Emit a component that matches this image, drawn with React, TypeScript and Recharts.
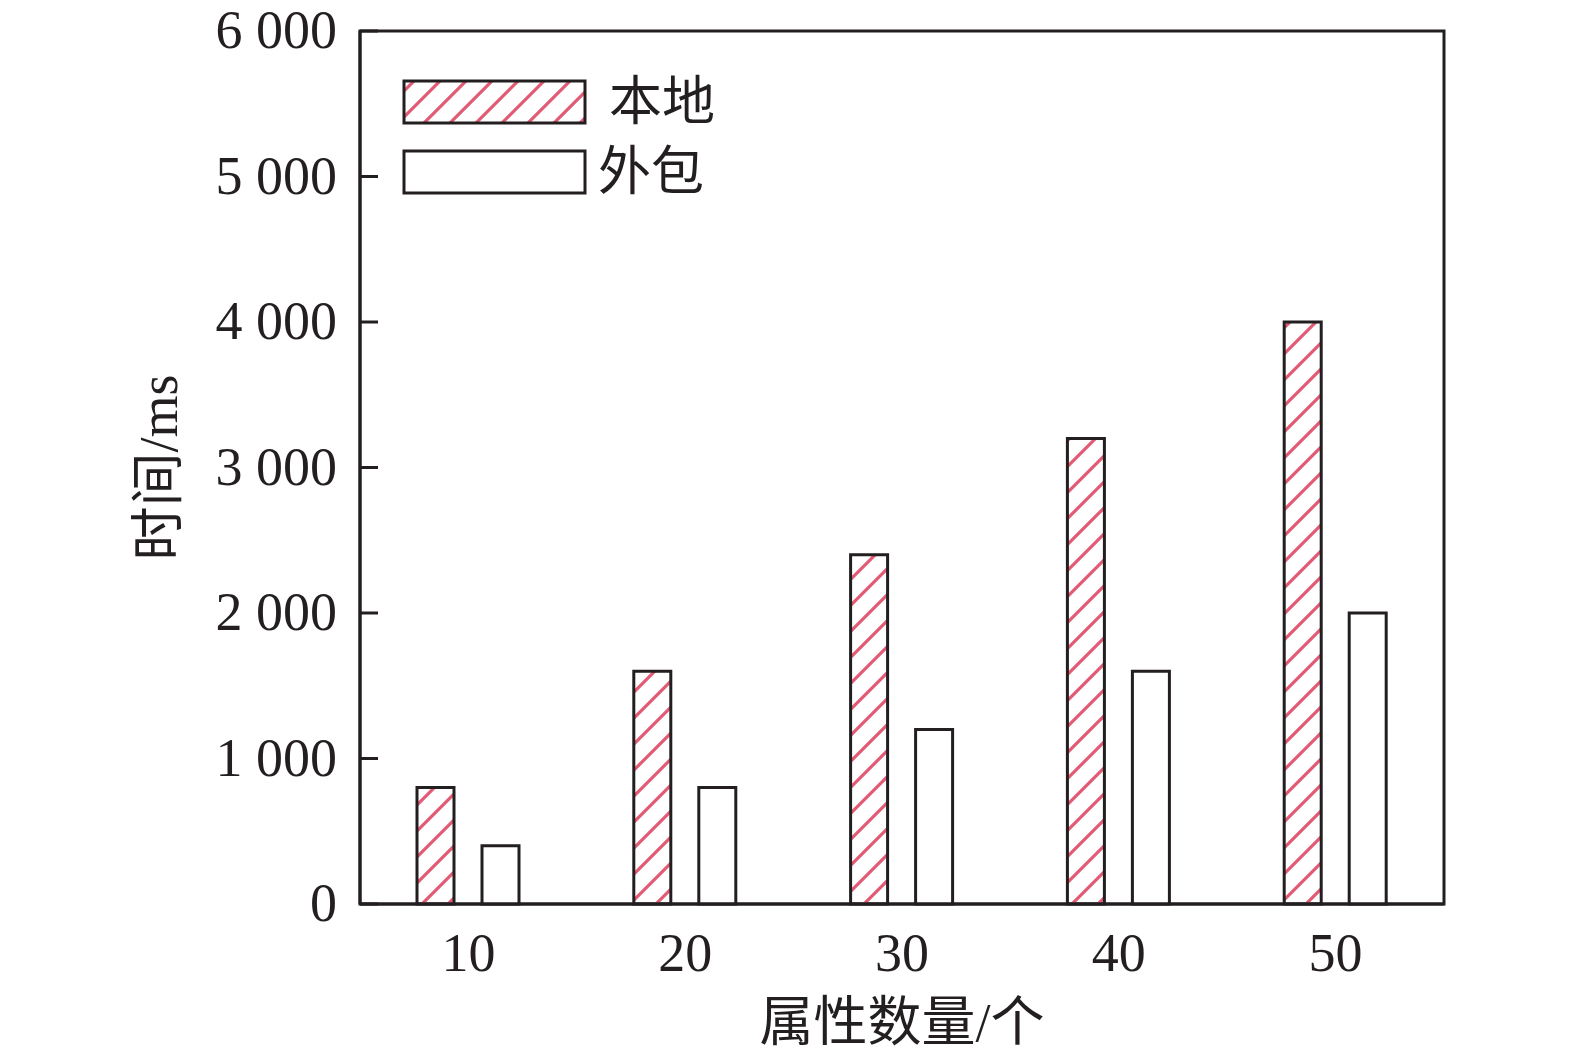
import React from "react";
import { BarChart, Bar, XAxis, YAxis, Legend, ReferenceArea } from "recharts";

// attribute count vs. time (ms)
const categories = ["10", "20", "30", "40", "50"];
const localTimes = [800, 1600, 2400, 3200, 4000];
const outsourcedTimes = [400, 800, 1200, 1600, 2000];
const seriesNames = ["本地", "外包"];
const yTicks = [0, 1000, 2000, 3000, 4000, 5000, 6000];
const yTickLabels = ["0", "1 000", "2 000", "3 000", "4 000", "5 000", "6 000"];

const data = categories.map((c, i) => ({
  attrs: c,
  local: localTimes[i],
  outsourced: outsourcedTimes[i],
}));

const INK = "#231f20";
const HATCH = "#e35a74";
const SERIF = "'Liberation Serif', 'Times New Roman', 'Noto Sans CJK SC', serif";

function Hatch({ id }: { id: string }) {
  return (
    <pattern id={id} width={26} height={26} patternUnits="userSpaceOnUse">
      <path d="M-4,30 L30,-4 M-4,4 L4,-4 M22,30 L30,22" stroke={HATCH} strokeWidth={3.2} />
    </pattern>
  );
}

function YTick(props: any) {
  const { x, y, payload } = props;
  const label = yTickLabels[yTicks.indexOf(payload.value)];
  return (
    <g>
      <line x1={x + 23} x2={x + 41} y1={y} y2={y} stroke={INK} strokeWidth={3} />
      <text x={x} y={y} dy="0.32em" textAnchor="end" fontSize={54} fontFamily={SERIF} fill={INK}>
        {label}
      </text>
    </g>
  );
}

function LegendBox() {
  return (
    <svg width={340} height={130} style={{ overflow: "visible" }}>
      <defs>
        <Hatch id="hatchLegend" />
      </defs>
      <rect x={9} y={7} width={181} height={42} fill="url(#hatchLegend)" stroke={INK} strokeWidth={3} />
      <rect x={9} y={77} width={181} height={42} fill="#fff" stroke={INK} strokeWidth={3} />
      <text x={214} y={28} dominantBaseline="central" fontSize={53} fontFamily={SERIF} fill={INK}>
        {seriesNames[0]}
      </text>
      <text x={203} y={98} dominantBaseline="central" fontSize={53} fontFamily={SERIF} fill={INK}>
        {seriesNames[1]}
      </text>
    </svg>
  );
}

export default function App() {
  return (
    <div style={{ position: "absolute", left: 0, top: 0, width: 1575, height: 1058, background: "#fff" }}>
      <BarChart
        width={1575}
        height={1058}
        data={data}
        margin={{ top: 31, right: 131, left: 140, bottom: 0 }}
        barSize={37}
        barGap={28}
      >
        <defs>
          <Hatch id="hatch" />
        </defs>
        <XAxis
          dataKey="attrs"
          height={154}
          tickLine={false}
          tickSize={0}
          tickMargin={29}
          axisLine={{ stroke: INK, strokeWidth: 3 }}
          tick={{ fontSize: 54, fontFamily: SERIF, fill: INK }}
          label={{
            value: "属性数量/个",
            position: "insideBottom",
            offset: 17,
            fontSize: 54,
            fontFamily: SERIF,
            fill: INK,
          }}
        />
        <YAxis
          width={220}
          domain={[0, 6000]}
          ticks={yTicks}
          interval={0}
          tickLine={false}
          tickSize={0}
          tickMargin={23}
          axisLine={{ stroke: INK, strokeWidth: 3 }}
          tick={<YTick />}
          label={{
            value: "时间/ms",
            angle: -90,
            position: "insideLeft",
            offset: 18,
            fontSize: 54,
            fontFamily: SERIF,
            fill: INK,
            style: { textAnchor: "middle" },
          }}
        />
        <ReferenceArea y1={0} y2={6000} fill="none" stroke={INK} strokeWidth={3} ifOverflow="visible" />
        <Legend
          layout="vertical"
          align="center"
          verticalAlign="middle"
          wrapperStyle={{ left: 395, top: 74, width: 340, height: 130 }}
          content={() => <LegendBox />}
        />
        <Bar
          dataKey="local"
          name={seriesNames[0]}
          fill="url(#hatch)"
          stroke={INK}
          strokeWidth={3}
          isAnimationActive={false}
        />
        <Bar
          dataKey="outsourced"
          name={seriesNames[1]}
          fill="#fff"
          stroke={INK}
          strokeWidth={3}
          isAnimationActive={false}
        />
      </BarChart>
    </div>
  );
}
